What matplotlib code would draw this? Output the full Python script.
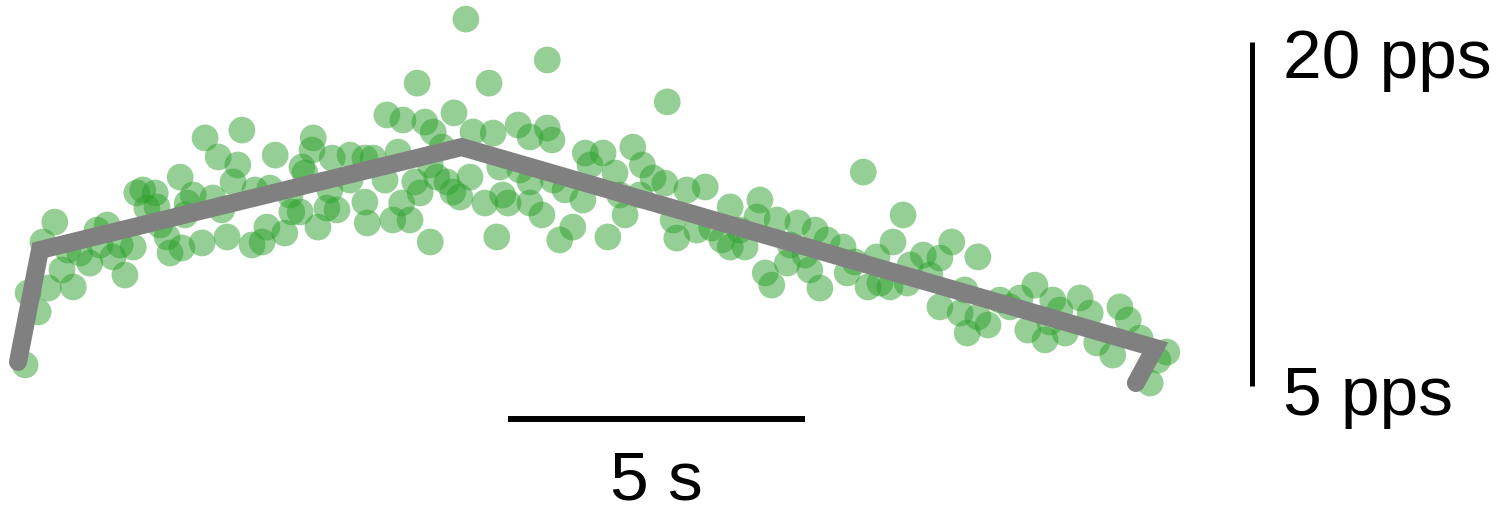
import matplotlib
matplotlib.use("Agg")
import matplotlib.pyplot as plt

# spike rate samples (time in s, rate in pps)
times = [0.12, 0.17, 0.34, 0.42, 0.51, 0.62, 0.74, 0.93, 1.04, 1.21, 1.33, 1.50, 1.60, 1.80, 1.94, 2.00,
         2.10, 2.17, 2.31, 2.34, 2.51, 2.56,
         3.15, 3.77, 3.37, 3.70, 3.62, 4.33, 2.73, 2.95, 3.28, 2.85, 3.10, 3.52, 3.94, 4.11, 4.19, 4.49,
         4.24, 4.61, 4.75, 5.05, 5.20, 5.37, 4.78, 4.97, 4.95, 4.83, 5.29, 5.59, 2.76,
         7.54, 8.91, 6.72, 7.93, 6.21, 6.48, 6.85, 6.99, 7.34, 7.66, 8.00, 8.42, 8.62, 8.91, 8.99, 5.84,
         5.98, 6.40, 7.14, 6.18, 6.68, 7.05, 7.22, 7.61, 7.32, 7.44, 6.77, 5.84, 6.46, 6.31, 6.60, 5.88,
         6.94, 7.86, 8.16, 8.25, 8.62, 8.82, 8.06, 9.12, 8.11, 8.45, 8.62, 9.01,
         10.93, 9.55, 9.85, 10.35, 10.51, 9.63, 10.05, 10.69, 10.89, 11.26, 11.57, 9.21, 9.51, 9.34,
         9.93, 10.22, 11.03, 11.09, 11.43,
         14.23, 14.90, 14.73, 12.49, 11.99, 12.44, 12.78, 13.13, 13.42, 11.99, 12.24, 12.95, 12.58,
         12.69, 13.33, 13.50, 13.96, 13.62, 13.89, 14.46, 14.51, 14.31, 14.68, 14.97,
         15.72, 16.16, 15.24, 15.52, 17.12, 17.42, 17.88, 18.05, 18.55, 18.69, 16.87, 16.70, 15.52,
         15.86, 16.16, 16.33, 15.98, 17.00, 17.29, 17.63, 18.16, 18.43, 19.34, 19.19, 19.06,
         0.84, 1.38, 1.72, 2.39, 2.81, 3.43, 3.99, 4.58, 5.25, 5.59, 6.94, 10.13, 10.47, 11.68,
         12.15, 13.00, 13.25, 14.09, 15.02, 15.35, 15.94, 16.53, 17.54, 18.89, 17.37, 11.85]
rates = [5.92, 9.06, 8.23, 11.28, 9.27, 12.15, 10.06, 9.32, 10.80, 10.36, 11.80, 12.02, 10.63, 9.84, 11.06, 13.42,
         13.55, 12.76, 13.42, 12.81, 11.50, 10.80,
         15.82, 16.16, 14.99, 14.64, 13.90, 15.07, 14.11, 13.33, 13.20, 12.98, 11.24, 11.50, 11.15, 11.28, 11.93, 11.67,
         13.63, 12.59, 12.59, 11.93, 12.76, 12.68, 14.55, 15.82, 15.29, 14.29, 14.94, 15.07, 11.02,
         21.00, 19.22, 18.21, 18.21, 16.82, 16.60, 16.51, 16.08, 16.91, 16.08, 16.03, 16.38, 15.86, 16.25, 15.73, 14.94,
         14.94, 15.20, 15.42, 13.98, 13.90, 14.11, 13.90, 14.11, 13.46, 13.24, 13.42, 13.02, 12.98, 12.24, 12.24, 12.11,
         11.28, 12.98, 13.33, 12.98, 12.98, 12.46, 11.50, 11.37, 14.55, 14.42, 13.90, 13.98,
         17.39, 15.16, 15.16, 15.42, 14.64, 14.64, 14.29, 14.07, 13.85, 13.55, 13.68, 13.55, 13.11, 11.93,
         11.50, 12.46, 12.24, 11.45, 11.80,
         14.33, 12.46, 11.28, 13.11, 12.81, 12.37, 12.24, 12.11, 11.80, 11.06, 11.06, 10.36, 9.93,
         9.40, 10.06, 9.27, 9.93, 11.37, 11.06, 10.63, 9.49, 9.32, 9.32, 9.49,
         11.28, 10.63, 10.71, 10.58, 9.40, 8.75, 8.84, 8.18, 8.45, 7.88, 8.84, 8.45, 8.45,
         8.18, 8.01, 7.66, 7.31, 7.44, 7.01, 7.31, 6.88, 6.35, 6.48, 6.13, 5.13,
         10.93, 11.15, 11.15, 12.02, 12.46, 12.68, 13.55, 13.33, 13.55, 13.98, 14.64, 13.33, 13.33, 11.89,
         11.80, 11.15, 10.71, 10.41, 10.28, 9.84, 9.19, 8.75, 8.31, 7.09, 7.79, 11.37]

# piecewise model fit (time in s, rate in pps)
fit_times = [0.00, 0.37, 7.47, 19.14, 18.82]
fit_rates = [6.05, 10.93, 15.42, 6.66, 5.13]

# scale bars
time_bar = [8.25, 13.25]      # 5 s
rate_bar = [5, 20]            # 5 -> 20 pps
time_label = "5 s"
rate_labels = ["20 pps", "5 pps"]

fig = plt.figure(figsize=(15.01, 5.12), dpi=100)
ax = fig.add_axes([0, 0, 1, 1])
ax.set_xlim(-0.303, 24.966)
ax.set_ylim(-0.495, 21.834)
ax.axis("off")

ax.scatter(times, rates, s=370, color="#2ca02c", alpha=0.5, edgecolors="none", zorder=2)
ax.plot(fit_times, fit_rates, color="#808080", lw=13, solid_capstyle="round",
        solid_joinstyle="miter", zorder=3)

font = "Liberation Sans"
# horizontal time scale bar
ax.plot(time_bar, [3.56, 3.56], color="black", lw=4.3, solid_capstyle="butt")
ax.text(sum(time_bar) / 2, 0.05, time_label, ha="center", va="baseline",
        fontsize=50, family=font)
# vertical rate scale bar
ax.plot([20.77, 20.77], rate_bar, color="black", lw=3.6, solid_capstyle="butt")
ax.text(21.30, 18.43, rate_labels[0], ha="left", va="baseline", fontsize=50, family=font)
ax.text(21.30, 3.73, rate_labels[1], ha="left", va="baseline", fontsize=50, family=font)

fig.savefig("out.png", dpi=100)
